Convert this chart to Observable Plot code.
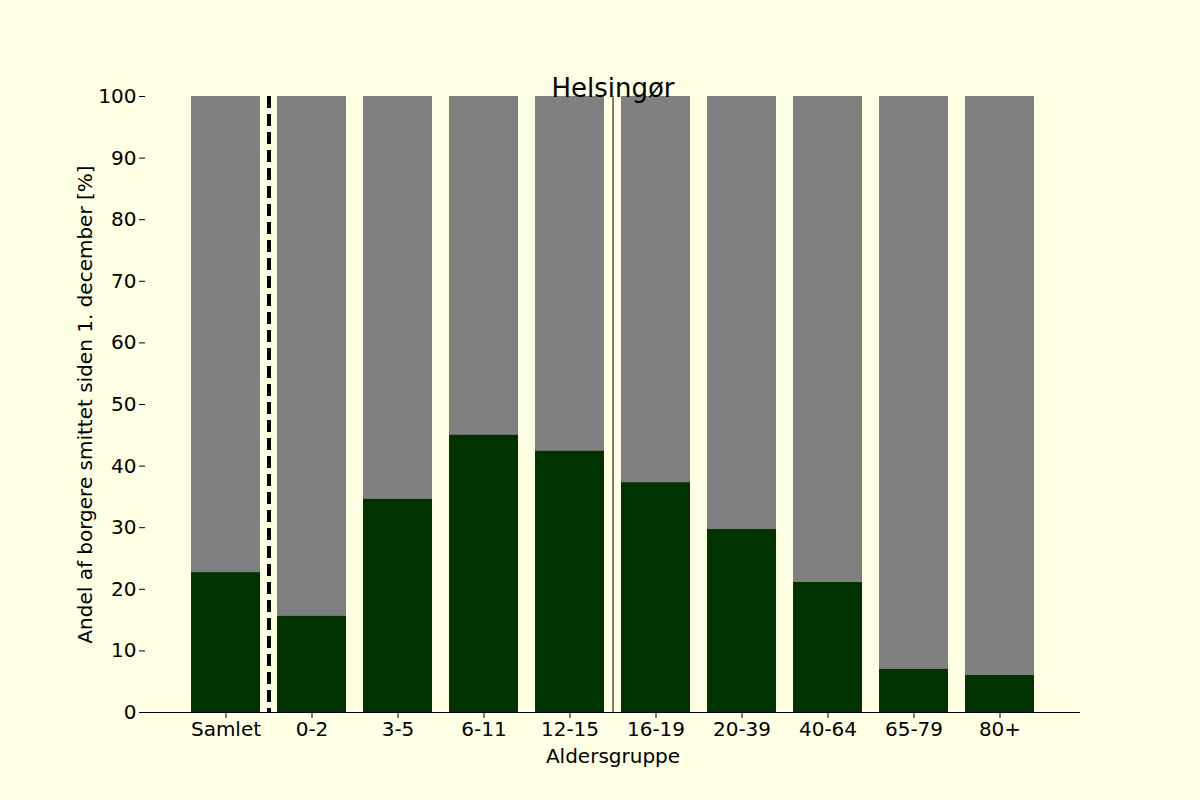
<!DOCTYPE html>
<html>
<head>
<meta charset="utf-8">
<script src="https://cdn.jsdelivr.net/npm/d3@7"></script>
<script src="https://cdn.jsdelivr.net/npm/@observablehq/plot@0.6"></script>
<style>
  body { margin: 0; background: #ffffe4; }
</style>
</head>
<body>
<div id="chart"></div>
<script>
// aldersgrupper og andel smittede
const grupper = ["Samlet", "0-2", "3-5", "6-11", "12-15", "16-19", "20-39", "40-64", "65-79", "80+"];
const smittet = [22.7, 15.6, 34.6, 45.0, 42.4, 37.3, 29.7, 21.1, 7.0, 6.0];
const yTicks = [0, 10, 20, 30, 40, 50, 60, 70, 80, 90, 100];

const data = grupper.map((g, i) => ({gruppe: g, andel: smittet[i]}));

const chart = Plot.plot({
  width: 1200,
  height: 800,
  marginTop: 96,
  marginBottom: 88,
  marginLeft: 145,
  marginRight: 120,
  style: {background: "#ffffe4", fontFamily: "DejaVu Sans", fontSize: "20px", color: "black"},
  x: {domain: grupper, paddingInner: 0.2, paddingOuter: 0.51, label: "Aldersgruppe", labelAnchor: "center", labelOffset: 50, tickSize: 6},
  y: {domain: [0, 100], ticks: yTicks, label: "Andel af borgere smittet siden 1. december [%]", labelAnchor: "center", labelOffset: 68, tickSize: 6},
  marks: [
    Plot.gridY(yTicks, {stroke: "#b0b0b0", strokeOpacity: 1, x1: 145, x2: 1080}),
    Plot.barY(data, {x: "gruppe", y: 100, fill: "#808080"}),
    Plot.barY(data, {x: "gruppe", y: "andel", fill: "#003300"}),
    Plot.ruleX(["Samlet"], {dx: 43, stroke: "black", strokeWidth: 4, strokeDasharray: "12,6"}),
    Plot.axisX({tickSize: 6, fontSize: 20, label: "Aldersgruppe", labelAnchor: "center", labelArrow: "none", labelOffset: 50}),
    Plot.axisY({ticks: yTicks, tickSize: 6, fontSize: 20, label: "Andel af borgere smittet siden 1. december [%]", labelAnchor: "center", labelArrow: "none", labelOffset: 68}),
    Plot.ruleY([0], {stroke: "black"}),
    Plot.ruleX([0], {x: null, frameAnchor: "left", stroke: "black"}),
    Plot.text(["Helsingør"], {frameAnchor: "top", dy: -18, fontSize: 26, fill: "black"})
  ]
});

document.getElementById("chart").append(chart);
</script>
</body>
</html>
